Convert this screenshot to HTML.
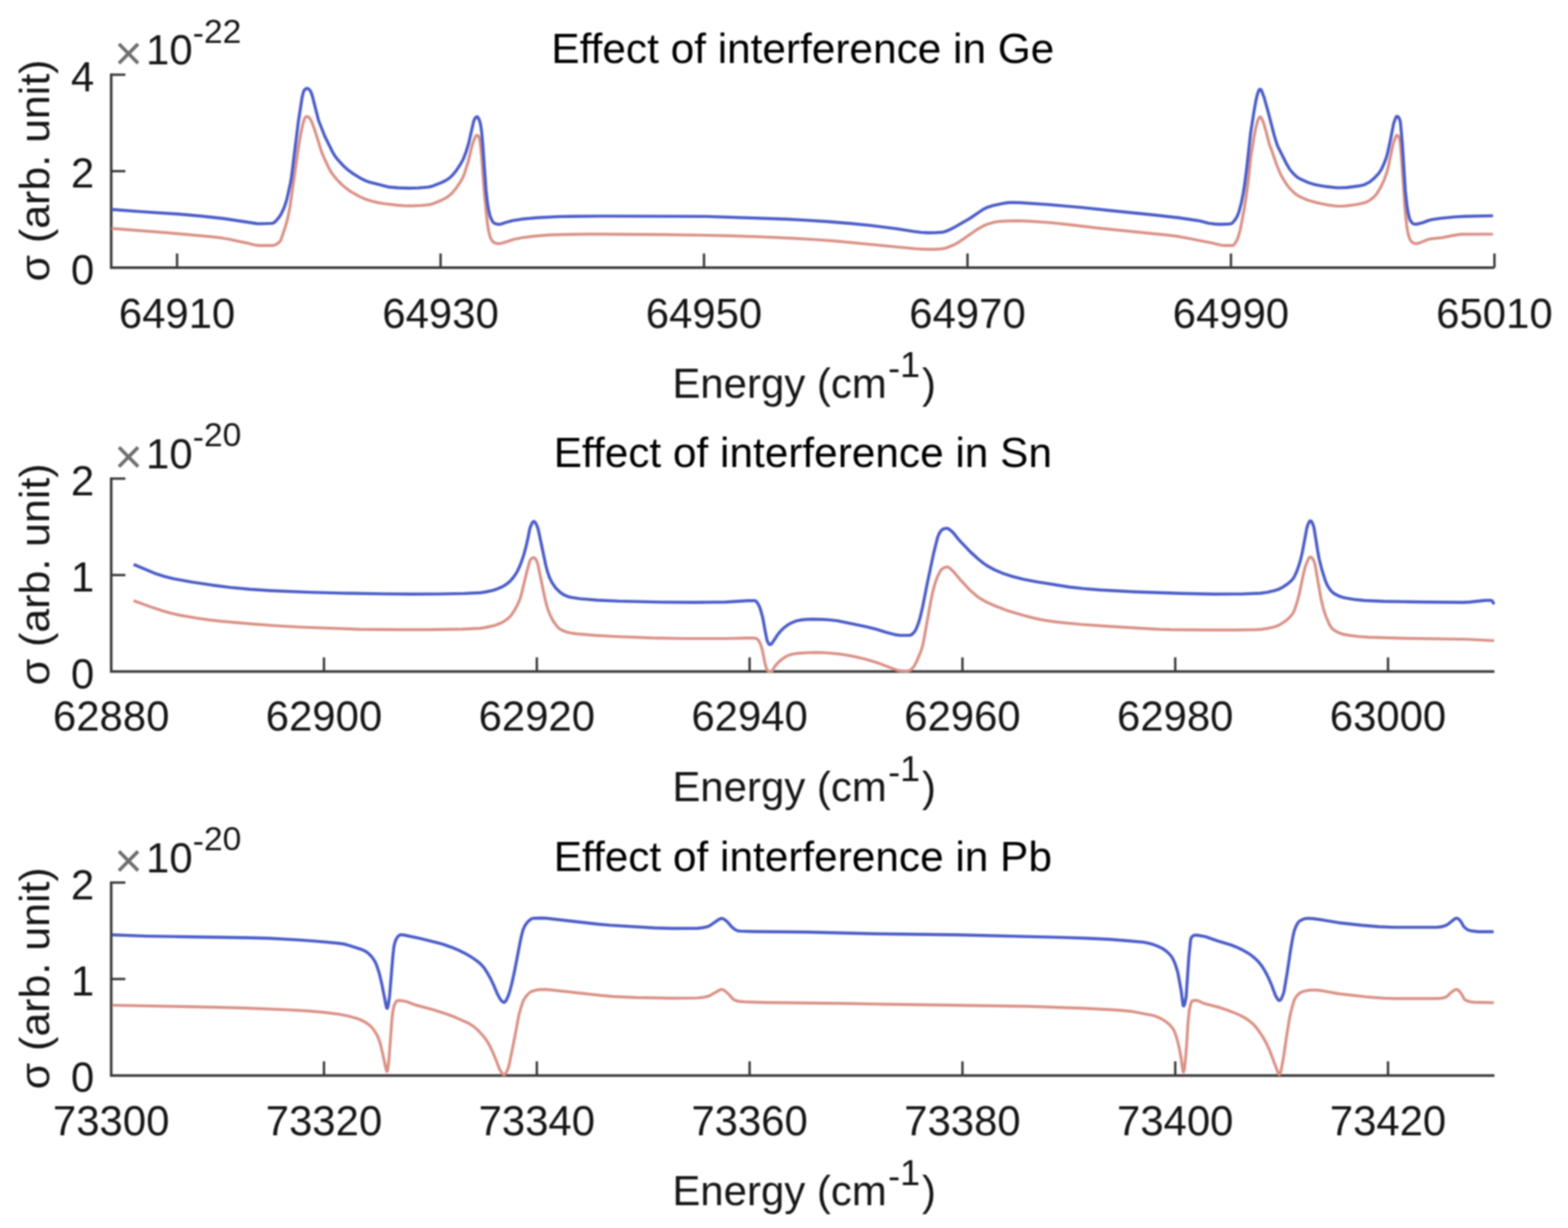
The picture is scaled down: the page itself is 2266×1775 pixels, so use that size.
<!DOCTYPE html>
<html><head><meta charset="utf-8"><title>Effect of interference</title>
<style>
html,body{margin:0;padding:0;background:#fff;width:2266px;height:1775px;overflow:hidden}
svg{display:block;filter:blur(1.1px)}
text{font-family:"Liberation Sans",Arial,sans-serif;fill:#161616;font-variant-ligatures:none;font-kerning:normal}
</style></head><body>
<svg width="2266" height="1775" viewBox="0 0 2266 1775">
<rect width="2266" height="1775" fill="#fff"/>
<g><path d="M160.7,106.3 L160.7,386.9 L2159.7,386.9" fill="none" stroke="#383838" stroke-width="3.7"/><line x1="160.7" y1="247.4" x2="181.2" y2="247.4" stroke="#383838" stroke-width="3.4"/><line x1="160.7" y1="108.0" x2="181.2" y2="108.0" stroke="#383838" stroke-width="3.4"/><line x1="255.9" y1="386.9" x2="255.9" y2="366.4" stroke="#383838" stroke-width="3.4"/><line x1="636.7" y1="386.9" x2="636.7" y2="366.4" stroke="#383838" stroke-width="3.4"/><line x1="1017.4" y1="386.9" x2="1017.4" y2="366.4" stroke="#383838" stroke-width="3.4"/><line x1="1398.2" y1="386.9" x2="1398.2" y2="366.4" stroke="#383838" stroke-width="3.4"/><line x1="1778.9" y1="386.9" x2="1778.9" y2="366.4" stroke="#383838" stroke-width="3.4"/><line x1="2159.7" y1="386.9" x2="2159.7" y2="366.4" stroke="#383838" stroke-width="3.4"/><text x="136.2" y="410.7" text-anchor="end" font-size="60.5">0</text><text x="136.2" y="271.2" text-anchor="end" font-size="60.5">2</text><text x="136.2" y="131.8" text-anchor="end" font-size="60.5">4</text><text x="255.9" y="474.2" text-anchor="middle" font-size="60.5">64910</text><text x="636.7" y="474.2" text-anchor="middle" font-size="60.5">64930</text><text x="1017.4" y="474.2" text-anchor="middle" font-size="60.5">64950</text><text x="1398.2" y="474.2" text-anchor="middle" font-size="60.5">64970</text><text x="1778.9" y="474.2" text-anchor="middle" font-size="60.5">64990</text><text x="2159.7" y="474.2" text-anchor="middle" font-size="60.5">65010</text><text x="1160.2" y="91.0" text-anchor="middle" font-size="61.2" style="fill:#000">Effect of interference in Ge</text><text y="574.5" font-size="60.6"><tspan x="971.7">Energy (cm</tspan><tspan x="1283.5" y="550.0" font-size="52">-</tspan><tspan y="545.0" font-size="52">1</tspan><tspan x="1332.5" y="574.5">)</tspan></text><text transform="translate(70.5,246.4) rotate(-90)" text-anchor="middle" font-size="62.0">σ (arb. unit)</text><text x="165.3" y="100.6" font-size="70" style="fill:#6e6e6e">×</text><text x="211.1" y="93.0" font-size="60.5">10</text><text x="278.6" y="64.0" font-size="48.5">-<tspan dy="-2.5">22</tspan></text><path d="M161,330.2L241.3,336.4L310,342.7L321.9,344.2L330.7,345.7L358.1,351.6L367.8,354L372.8,354.8L393.7,354.9L396.7,354.3L399.4,353.1L403.8,349.8L405.1,348.3L406,346.6L412.4,327.7L415.9,315.1L419,299.4L431,214.8L434.3,195.1L437.4,180.4L439.9,171.8L441.4,169.4L442.7,168.7L444.1,168.5L445.5,168.8L446.9,170L449.1,173.3L450.6,176.5L454.9,188.2L464.8,219.7L467.8,227.1L474.8,242L477.9,247.7L481.6,253.1L486.3,258.9L491.8,264.8L499.3,271.4L506.6,276.7L518.3,283.4L527.8,287.8L537.3,290.8L547.1,293.1L556,294.5L574.3,296.6L585.3,297.5L594.3,297.7L608.8,297L620.7,295.9L626.9,294L638,289.5L645.1,285.7L650.3,281.9L654.9,277.3L659.6,271.5L666,261.9L669.1,256.2L671.3,250.6L676.8,233L681.3,214L684.1,204.4L687.5,196.7L688.9,195.5L689.6,195.5L690.4,195.9L691.9,197.7L693,200.5L694.4,209.9L696,226.3L700.1,281.1L704.2,321.4L705.7,331.8L708,341.5L709.1,344.3L710.8,347.3L712.4,349.3L713.9,350.5L716.2,351.5L719.1,352.1L722.1,352.2L724.6,351.8L742.6,346L754.9,343.5L771.7,341.4L793.2,339.7L822.2,338.8L852.6,338.4L957.6,339.2L1017.1,340L1055.6,340.9L1104.1,342.5L1149.6,344.6L1181,346.5L1206.9,348.4L1322.9,359.5L1337.9,360.4L1350.9,360.3L1360.8,359.6L1365.3,358.9L1370.5,357.3L1378.4,354L1383.2,351.4L1390.4,346.8L1411.7,331.9L1421.2,326.5L1427.2,323.9L1435.9,321.4L1442.7,320.2L1457.2,319.4L1472.2,319.2L1490.2,319.8L1520.1,322L1548.4,325.1L1586.2,329.7L1687.7,339.8L1700,341.4L1714.8,344L1751.6,351.2L1765.2,354.5L1769.7,354.9L1780.7,354.9L1782.6,354.4L1784,353.2L1787.6,347.2L1790,340.7L1792.7,330.5L1797.9,303L1800.4,287.7L1804.3,258L1807.4,228.1L1812.2,198.5L1814.9,184.8L1817.2,175.6L1819.2,170.5L1820.1,169.4L1821.2,169L1822.3,169.6L1823.1,170.7L1826.2,178.1L1829.4,189.1L1834.4,208.5L1838.1,218.3L1844.8,237.7L1850.9,252.5L1854.1,258.2L1857.8,264.1L1861.2,269L1864.7,273.3L1871.1,279.6L1874.8,282.1L1879.1,284.6L1889.7,289.2L1901.2,292.6L1921.2,296.7L1932.2,298L1938.7,298L1945.6,297.6L1961,295.5L1972.7,292.9L1975.9,291.5L1979.8,289.2L1985,285.3L1989.6,280.1L1995.1,271.2L1999.6,261.7L2003.2,252.3L2006.1,242.3L2010.8,219.3L2014.1,205.6L2017.2,197.2L2018.3,195.8L2019.4,195.5L2020.7,196.7L2022.2,199.8L2022.9,202.7L2023.7,208.1L2025.6,230.6L2030.4,301.9L2032.8,325.3L2034.2,334.1L2036.1,341.9L2037.6,346.2L2039.6,349L2041.5,350.6L2043.6,351.8L2045.5,352.2L2047.5,352.1L2051.4,351.1L2063.4,346.3L2066.3,345.4L2083.2,343.7L2098.4,340.6L2111.2,338.6L2157.6,338.5" fill="none" stroke="#da9186" stroke-width="4.2" stroke-linejoin="round" stroke-linecap="butt"/><path d="M161,302.7L210.4,306.4L258.8,309.5L289.6,312.2L323.9,316L371.4,323.2L379.4,323.4L391.4,322.9L393.8,322.7L396.1,321.7L398.4,319.8L401,316.8L404.4,312.4L406.5,309L410.9,299.5L414.4,288.6L419.7,264.6L421.3,255.3L431.1,176.4L436.5,141.3L438.1,134.5L439.4,130.8L441.4,128.7L442.7,128L444.1,127.8L445.9,128.5L447.3,129.8L448.8,131.8L450,134.5L451.9,140.7L460.4,174.2L469.4,197L481.1,220.7L484.3,225.8L488.3,231L495.7,239.1L503.1,245.8L510.8,251.4L522.3,258.3L528.2,261.2L534.3,263.4L560.9,270.2L575.3,271.5L590.3,272L604.8,271.6L619.3,270.4L625.6,268.8L637.2,264.3L643.9,261L649.4,257.5L654.1,253L659.5,246.4L665.8,236.8L669.6,229.8L673.5,219.5L677.3,207.1L684.6,174.9L686.1,171.7L687.4,169.7L688.9,168.8L690.1,169L691.7,171.3L693.7,176.5L694.8,181.8L696.1,191.3L697.6,207.7L702.4,275L704.2,291.4L706.1,303.3L708.4,313L711.6,319.8L712.8,321.3L714.3,322.6L716.1,323.3L719,324L721.5,324.2L723.9,323.9L731.1,321.5L740.7,318.9L753.5,316.8L775.4,314.7L806.4,313.1L827.9,312.7L872.4,312.4L1020.9,312.9L1136.3,316.8L1161.8,318.1L1195.2,320.3L1229.1,323L1258,325.9L1295.7,330.6L1320.8,334.6L1330.8,335.9L1340.7,336.5L1350.7,336.4L1360.7,335.8L1364.6,335.1L1369.3,333.4L1377,329.8L1401.3,315.9L1420.7,302.7L1426.5,299.8L1435.1,297.1L1447.8,294.3L1456.2,293L1463.2,292.6L1474.7,293L1514.1,295.6L1562.9,299.9L1603.7,304.3L1667.9,310.7L1703.1,314.7L1730.3,318.7L1736.2,319.9L1746.4,322.6L1755.3,323.8L1763.7,324.3L1777.2,323.7L1779.6,323.2L1781.2,322.1L1785,317.5L1787.4,313.7L1790.3,306.8L1793.9,293.3L1796.6,279.6L1798.9,265.2L1801.7,242.9L1807.2,193.2L1812.2,161.1L1814.8,146.3L1817.2,136.1L1819.3,130.5L1820.2,129.4L1821.2,129L1822.2,129.6L1823.2,131.2L1826.9,141L1832.9,162.7L1841.3,195.1L1844.6,206.1L1846.9,212.2L1859.2,236.8L1863.3,243.7L1866.9,248.5L1871,252.8L1874.8,256.1L1878.6,258.5L1890.9,264L1899.5,266.7L1906.8,268.2L1917.2,269.8L1931.6,271.4L1938.6,271.4L1947.1,271L1963.9,268.8L1971.2,267.2L1978.8,263.4L1985.5,258.1L1992.6,250.4L1996.2,245L1999.8,237.3L2003.2,228.5L2005.6,219.8L2009,204.2L2014,178.6L2017.2,169.7L2018.3,168.3L2019.5,168.1L2021.2,169.5L2022.7,172.6L2023.5,175.5L2024.2,180.5L2026.6,207.9L2030.9,275.2L2033.2,296.6L2034.9,306.9L2036.9,315.7L2038.3,318.9L2040.7,322.1L2042.2,323.3L2043.5,323.9L2047.4,324L2056.2,321.9L2064.5,318.6L2069.4,317.4L2081.3,315.6L2101.2,313.6L2117.1,312.7L2157.6,311.9" fill="none" stroke="#4a5cc8" stroke-width="4.4" stroke-linejoin="round" stroke-linecap="butt"/></g>
<g><path d="M160.7,690.1 L160.7,970.7 L2159.7,970.7" fill="none" stroke="#383838" stroke-width="3.7"/><line x1="160.7" y1="831.2" x2="181.2" y2="831.2" stroke="#383838" stroke-width="3.4"/><line x1="160.7" y1="691.8" x2="181.2" y2="691.8" stroke="#383838" stroke-width="3.4"/><line x1="468.2" y1="970.7" x2="468.2" y2="950.2" stroke="#383838" stroke-width="3.4"/><line x1="775.8" y1="970.7" x2="775.8" y2="950.2" stroke="#383838" stroke-width="3.4"/><line x1="1083.3" y1="970.7" x2="1083.3" y2="950.2" stroke="#383838" stroke-width="3.4"/><line x1="1390.9" y1="970.7" x2="1390.9" y2="950.2" stroke="#383838" stroke-width="3.4"/><line x1="1698.4" y1="970.7" x2="1698.4" y2="950.2" stroke="#383838" stroke-width="3.4"/><line x1="2005.9" y1="970.7" x2="2005.9" y2="950.2" stroke="#383838" stroke-width="3.4"/><text x="136.2" y="994.5" text-anchor="end" font-size="60.5">0</text><text x="136.2" y="855.0" text-anchor="end" font-size="60.5">1</text><text x="136.2" y="715.6" text-anchor="end" font-size="60.5">2</text><text x="160.7" y="1056.2" text-anchor="middle" font-size="60.5">62880</text><text x="468.2" y="1056.2" text-anchor="middle" font-size="60.5">62900</text><text x="775.8" y="1056.2" text-anchor="middle" font-size="60.5">62920</text><text x="1083.3" y="1056.2" text-anchor="middle" font-size="60.5">62940</text><text x="1390.9" y="1056.2" text-anchor="middle" font-size="60.5">62960</text><text x="1698.4" y="1056.2" text-anchor="middle" font-size="60.5">62980</text><text x="2005.9" y="1056.2" text-anchor="middle" font-size="60.5">63000</text><text x="1160.2" y="674.8" text-anchor="middle" font-size="61.2" style="fill:#000">Effect of interference in Sn</text><text y="1158.3" font-size="60.6"><tspan x="971.7">Energy (cm</tspan><tspan x="1283.5" y="1133.8" font-size="52">-</tspan><tspan y="1128.8" font-size="52">1</tspan><tspan x="1332.5" y="1158.3">)</tspan></text><text transform="translate(70.5,830.2) rotate(-90)" text-anchor="middle" font-size="62.0">σ (arb. unit)</text><text x="165.3" y="684.4" font-size="70" style="fill:#6e6e6e">×</text><text x="211.1" y="676.8" font-size="60.5">10</text><text x="278.6" y="647.8" font-size="48.5">-<tspan dy="-2.5">20</tspan></text><path d="M193.1,868.2L220.3,878.1L236,883.3L246.6,886.3L260.7,889.4L284.4,893.5L302.7,896.2L323.6,898.4L367.4,902.2L399.3,904.5L435.2,906.5L519.7,909.6L575.2,910.1L620.2,910.1L668.2,909.3L694.6,908.1L702.1,906.9L711.3,904.9L717.1,903.2L722.7,901L727.6,898.6L732.2,895.6L736,892.4L739.3,888.6L742.9,883.2L746.6,876.7L749.6,870.4L752.1,863.8L754.1,856.6L761.8,824.5L765.8,810.6L766.7,808.9L768.1,807.4L769.7,806.3L771.5,806L772.7,806.5L774.2,808.4L776.2,812.4L777.3,815.7L787.5,865.2L791.2,879.2L794.5,888.1L799.1,897L803,902.8L806.1,906.7L808.4,908.7L810.9,910.2L814.5,912L818.7,913.5L824.1,914.8L833,916.1L859.9,918.4L887.8,920L942.8,922.2L989.8,923L1048.3,923L1082.8,922.2L1091.2,922.3L1093.1,922.9L1095,924.4L1096.7,926.3L1098.1,928.9L1099.9,933.6L1102,940.8L1105.1,956.9L1107.7,966.6L1109.3,969.6L1110.9,970.7L1112.8,970.7L1114.1,970.7L1115.6,970.1L1120.3,962.5L1126.7,955.5L1133.5,950.4L1138.7,947.5L1145.5,945.5L1152.8,944.3L1165.8,943.5L1179.8,943.2L1192.8,943.5L1211.2,945.1L1221.1,946.5L1233.9,948.9L1248.6,952.2L1264.9,956.9L1297.7,969.1L1301.6,969.7L1311.6,969.8L1314,969.4L1315.8,968.5L1318.7,965.8L1321.2,962.7L1324.5,956.6L1330.7,941.8L1332.8,935.1L1334.7,926.9L1344.8,870.8L1348.1,855.1L1350.6,845.4L1354.5,834.1L1358.8,825.6L1360.2,823.6L1361.7,822.2L1364.3,820.7L1366.6,819.8L1368.5,819.5L1370,819.7L1372.9,821.5L1379.3,827.8L1389,839.3L1401.2,852.5L1411.7,861.7L1415.8,864.6L1420.5,867.4L1427.6,871.1L1438.6,876L1455.4,882.4L1476.4,888.8L1492.9,893.1L1503.1,895.4L1513.5,897.2L1527.3,899.1L1561.7,902.5L1602.5,905.4L1674.4,909.6L1691.9,910.2L1749.9,910.7L1784.9,910.7L1815.4,910.2L1822.9,909.7L1830.3,908.6L1840.1,906.5L1846.3,904.6L1852,901.5L1858.6,896.9L1863.1,893L1866.7,888.9L1868.9,885.6L1870.7,882L1874.7,869.6L1877.4,859.5L1883.9,828.6L1886.6,818L1890.9,807.9L1892.3,805.9L1893.8,805.1L1895.5,805.8L1897,807.7L1899.1,811.6L1900.2,814.9L1908.9,864.7L1912.5,879.8L1916,890.7L1920.5,901.3L1924.1,907.3L1925.8,909.1L1928.2,910.9L1934.7,914.6L1941.3,916.9L1949.7,918.4L1963.1,920L1978.5,921.1L2028.5,922.7L2117.5,924L2159.2,926" fill="none" stroke="#da9186" stroke-width="4.2" stroke-linejoin="round" stroke-linecap="butt"/><path d="M193.1,815.9L226.3,829.7L238.3,833.4L251.4,836.6L277.4,841.3L306.1,845.7L332.9,849.1L361.3,851.8L391.2,853.7L448.2,856.1L494.1,857.4L554.1,858.4L594.6,858.8L631.1,858.6L670.6,857.9L694.6,856.7L702.5,855.5L712.2,853.3L718.4,851.3L724.9,848.6L730.1,845.7L734.9,842.1L738.5,838.7L742.3,834L745.5,829.5L747.9,825.2L750.9,818.8L753.5,812.3L757,801.9L760,790.8L762.5,780.1L765.8,763.4L768.9,756.1L770.4,754.2L771.6,753.8L772.7,754.3L774.2,756.2L776.5,761.2L777.9,765.5L788.8,817.3L791.1,826L794.4,835.5L798,842.6L802.8,849.6L809.2,855.9L814.9,859.9L819.5,861.8L824.8,863.4L837.6,865.4L863.6,867.5L893.5,868.9L955.5,870.4L1003.5,870.7L1048.5,870.3L1080.9,868.3L1090.9,868.2L1092.6,869L1094.5,871.3L1097,875.6L1098.7,879.8L1102.3,892.8L1105.4,910L1108.4,925.2L1109.3,927.5L1110.7,930.1L1112,931.5L1113.2,931.7L1114.4,931.1L1115.7,929.7L1124.3,916.8L1127.1,913.3L1132,908.3L1138.3,903.4L1144,900.2L1151.4,897.3L1156.3,896.3L1166.2,895.2L1175.7,895L1191.7,895.5L1200.2,896.1L1210.6,897.4L1251.7,905.8L1265.8,909.4L1281.1,914.1L1295.6,917.8L1301.1,918.4L1313.6,918.4L1316,918L1317.7,917.1L1321.3,913.6L1323.7,909.9L1327,901.5L1329.6,892.9L1333.5,876.4L1339.6,845.4L1349.1,800.4L1354.9,777.1L1356.9,772L1359.7,767.3L1361.8,765.3L1365.5,763.9L1368,763.6L1369.9,764L1372,765.2L1375.5,768L1378.3,770.9L1384.2,778.4L1388.5,783.2L1402.7,798L1413.8,808.1L1420.8,813.7L1426.1,817.5L1437,823.5L1449.9,829L1462.7,833.2L1479.2,837.3L1498.9,841.2L1545.3,848.5L1564.2,850.6L1590.1,852.7L1640.5,855.5L1706.5,857.8L1754.4,858.7L1792.9,858.6L1821.4,857.5L1831.3,856.1L1842,853.7L1847.7,851.8L1853.9,848.6L1861,843.9L1865.9,839.6L1869.1,835.8L1871.4,831.9L1874,825.9L1877.2,817L1879.7,808.4L1882.1,798.1L1888.7,762.7L1890.1,758.5L1891.7,754.8L1892.8,753.3L1894,753L1895,753.5L1896.1,755.1L1897.7,758.8L1898.9,762.6L1904.5,797.6L1906.3,807.5L1910.2,823L1915.4,839.7L1918.7,847L1923.5,854L1927.5,857.7L1933.2,860.8L1937.9,862.6L1943.1,864.1L1959.4,866.8L1972.3,868L2000.3,869.2L2060.8,870.3L2115.3,870.7L2123.8,870.3L2144.7,868L2153.6,867.6L2155,867.8L2156.2,868.5L2159.3,873.3" fill="none" stroke="#4a5cc8" stroke-width="4.4" stroke-linejoin="round" stroke-linecap="butt"/></g>
<g><path d="M160.7,1274.0 L160.7,1554.6 L2159.7,1554.6" fill="none" stroke="#383838" stroke-width="3.7"/><line x1="160.7" y1="1415.1" x2="181.2" y2="1415.1" stroke="#383838" stroke-width="3.4"/><line x1="160.7" y1="1275.7" x2="181.2" y2="1275.7" stroke="#383838" stroke-width="3.4"/><line x1="468.2" y1="1554.6" x2="468.2" y2="1534.1" stroke="#383838" stroke-width="3.4"/><line x1="775.8" y1="1554.6" x2="775.8" y2="1534.1" stroke="#383838" stroke-width="3.4"/><line x1="1083.3" y1="1554.6" x2="1083.3" y2="1534.1" stroke="#383838" stroke-width="3.4"/><line x1="1390.9" y1="1554.6" x2="1390.9" y2="1534.1" stroke="#383838" stroke-width="3.4"/><line x1="1698.4" y1="1554.6" x2="1698.4" y2="1534.1" stroke="#383838" stroke-width="3.4"/><line x1="2005.9" y1="1554.6" x2="2005.9" y2="1534.1" stroke="#383838" stroke-width="3.4"/><text x="136.2" y="1578.4" text-anchor="end" font-size="60.5">0</text><text x="136.2" y="1438.9" text-anchor="end" font-size="60.5">1</text><text x="136.2" y="1299.5" text-anchor="end" font-size="60.5">2</text><text x="160.7" y="1641.1" text-anchor="middle" font-size="60.5">73300</text><text x="468.2" y="1641.1" text-anchor="middle" font-size="60.5">73320</text><text x="775.8" y="1641.1" text-anchor="middle" font-size="60.5">73340</text><text x="1083.3" y="1641.1" text-anchor="middle" font-size="60.5">73360</text><text x="1390.9" y="1641.1" text-anchor="middle" font-size="60.5">73380</text><text x="1698.4" y="1641.1" text-anchor="middle" font-size="60.5">73400</text><text x="2005.9" y="1641.1" text-anchor="middle" font-size="60.5">73420</text><text x="1160.2" y="1258.7" text-anchor="middle" font-size="61.2" style="fill:#000">Effect of interference in Pb</text><text y="1742.2" font-size="60.6"><tspan x="971.7">Energy (cm</tspan><tspan x="1283.5" y="1717.7" font-size="52">-</tspan><tspan y="1712.7" font-size="52">1</tspan><tspan x="1332.5" y="1742.2">)</tspan></text><text transform="translate(70.5,1414.1) rotate(-90)" text-anchor="middle" font-size="62.0">σ (arb. unit)</text><text x="165.3" y="1268.3" font-size="70" style="fill:#6e6e6e">×</text><text x="211.1" y="1260.7" font-size="60.5">10</text><text x="278.6" y="1231.7" font-size="48.5">-<tspan dy="-2.5">20</tspan></text><path d="M161.9,1453L309.4,1455.8L355.9,1457.2L413.3,1459.5L443.3,1461.1L469.2,1463.3L488.5,1465.8L503.7,1468.7L517.2,1472.6L521.8,1474.5L526.7,1476.9L531,1479.6L534.5,1482.3L537.7,1485.5L540.5,1489L545.4,1497.2L548.9,1506L553.2,1523.5L558.1,1546.4L558.7,1548.2L559.3,1548.7L560,1547.6L560.5,1545.2L562.2,1529.8L566.5,1472.4L567.4,1464L569,1455.6L569.8,1452.8L571.1,1450L572.4,1447.9L573.8,1446.6L576.6,1446.2L584.5,1447L588.9,1448.2L599.6,1452.4L626.1,1459.5L647.1,1466.3L658.7,1470.8L672.4,1476.8L679.1,1480.2L684.2,1483.5L689.5,1488L695.4,1494.1L700.6,1500.2L704.8,1506.4L707.8,1511.6L711.2,1518.8L716.1,1530.3L722,1545.7L725.7,1551.7L727,1553L728.3,1553.5L729.9,1552.8L731.3,1550.8L733.9,1545.4L735.3,1541.2L742.6,1505.9L749.7,1468.1L752.8,1456.5L755.7,1448L757.4,1444.4L760.2,1440.3L763.1,1436.8L765.7,1434.5L767.9,1433.2L770.7,1432.2L775.5,1431L780,1430.3L786.5,1430.1L796.4,1430.8L866.5,1438.6L885.9,1440.3L918.9,1441.9L972.4,1442.9L1007.9,1442.5L1015.8,1441.7L1022.2,1440.4L1025.5,1439.3L1039.8,1431.1L1041.7,1430.4L1043.1,1430.2L1045.5,1430.8L1047.9,1432.5L1053.5,1437.5L1058.7,1443.5L1061.1,1445.3L1063.9,1446.4L1067.7,1447.4L1076.2,1448.2L1107.2,1449.2L1217.7,1450.4L1285.2,1451.7L1486.6,1454.7L1565.1,1457.4L1604,1459.3L1622,1460.6L1637.4,1462.2L1665.9,1467.7L1671.1,1469.3L1677.1,1472L1682.7,1475.2L1687.9,1479.1L1692.2,1483.2L1695.5,1487.6L1697.6,1491.6L1699.7,1497.7L1702.2,1506.4L1705.1,1519.5L1707,1529.9L1709.2,1546.7L1709.8,1549L1710.3,1549.5L1711,1548.4L1711.5,1546L1713,1533.1L1714.8,1511.7L1716.8,1479.2L1718.7,1460.3L1720.5,1452L1722,1447.8L1722.9,1446.8L1724.2,1446.3L1728.7,1445.9L1731.5,1446.6L1739.2,1450.2L1762.9,1456.4L1772.8,1459.7L1784.9,1464.4L1792.7,1467.9L1798.9,1471.2L1804.7,1475.1L1809.7,1479.1L1814,1483.4L1818.3,1488.9L1824.7,1498.4L1829.4,1506.7L1835.1,1518.9L1847.2,1551.2L1847.9,1552.5L1848.7,1553.1L1849.6,1552.7L1850.2,1551.5L1852,1544.2L1855.4,1525.1L1859.3,1497.8L1863.2,1473.7L1865.1,1464.3L1868,1453.2L1870.4,1445.6L1872.7,1441.2L1875,1438.5L1877.5,1436.1L1880,1434.4L1882.7,1433.2L1887.6,1432L1893.5,1431.2L1898.5,1431L1903.5,1431.2L1911.4,1432.2L1934.5,1436.4L1975.3,1441L2000.2,1442.9L2016.7,1443.4L2076.7,1443.4L2083.2,1442.9L2089.4,1441.3L2091.5,1439.9L2095.7,1435.7L2100.1,1432.3L2102.6,1430.8L2104.9,1430.2L2107.2,1431L2109.6,1433.4L2112.5,1437.5L2116.3,1444.4L2117.9,1445.6L2121.1,1447L2124.9,1448.1L2129.4,1448.6L2158.7,1449.3" fill="none" stroke="#da9186" stroke-width="4.2" stroke-linejoin="round" stroke-linecap="butt"/><path d="M161.9,1351.2L212.4,1353.1L360.4,1355.5L388.9,1356.3L431.8,1358.6L458.7,1360.6L487.6,1363.2L495,1364.2L500.9,1365.5L520.9,1371.8L527.3,1374.6L530.7,1376.7L534.1,1379.7L537.5,1383.3L540.1,1387L542.4,1390.9L544.2,1395L548.1,1406.8L551.5,1420.9L558.2,1454.8L558.7,1456.6L559.3,1457.4L560.1,1456.6L560.8,1454.3L563,1440L567.9,1380.2L569.4,1367.8L571.2,1360.5L573.1,1356.4L574.8,1354L576.6,1352.2L578.3,1351.3L579.7,1351.1L583.7,1351.5L606.7,1356.3L632.9,1362.8L641,1365.2L652.8,1369.3L663.4,1373.8L673.3,1378.7L681.9,1383.8L687.6,1387.7L692.4,1391.4L696.7,1395.6L699.6,1399L703.7,1405.3L708.9,1414.4L713.8,1424.8L718.7,1436.3L722.4,1443.4L724.5,1446.2L726.6,1448.3L728.3,1448.9L729.5,1448.5L731.6,1445.8L734.7,1439L736.6,1433.3L739.4,1422.7L743.9,1402.2L752.7,1356.5L755.7,1344.4L758.8,1337.6L762,1333.2L764.9,1330.4L767.3,1328.6L769.6,1327.6L772,1327.3L782.5,1327L789,1327.3L863.5,1335.8L881.9,1337.4L945.8,1341.3L971.8,1342L1008.3,1341.7L1012.8,1341.3L1017.7,1340.5L1022.6,1339.4L1025.4,1338.3L1039,1328.9L1041.2,1327.9L1043.1,1327.5L1045.9,1328.3L1049.1,1330.7L1052,1333.4L1057.2,1339.5L1062.2,1343.6L1065.8,1345.4L1069.7,1345.9L1089.2,1346.5L1165.2,1347.3L1265.2,1349.7L1382.7,1351.2L1539.1,1355.1L1571.1,1356.2L1603.5,1357.8L1628.5,1359.7L1652.4,1361.9L1658.8,1363.1L1666.5,1365.2L1672.1,1367.2L1678,1369.9L1683.1,1373L1687.4,1376.5L1690.9,1380L1693.9,1384L1696,1388L1698.5,1394L1702.1,1405.4L1706.9,1431.5L1709.5,1451.8L1709.9,1453.6L1710.6,1454L1711.5,1452.9L1712.4,1450.1L1714.2,1440.3L1718,1383.9L1720.5,1359.5L1721.3,1356.1L1722.2,1354.4L1724,1352.8L1726.3,1351.8L1728.2,1351.7L1731.7,1352L1742,1353.8L1760,1360.1L1779.1,1365.9L1787.5,1369.2L1796,1373.3L1803.4,1377.5L1809.6,1381.8L1814.5,1386L1819.1,1390.6L1822.8,1395.3L1826.4,1400.7L1830.8,1408.6L1834,1415.4L1838.1,1425L1843.1,1438.6L1846.6,1444.7L1847.6,1445.7L1848.8,1446.1L1850.3,1445.4L1852,1443L1854.5,1437L1855.8,1432.2L1860.4,1404.6L1865.2,1372.4L1868.5,1353.7L1870.4,1345.4L1873.3,1338L1876.4,1332.9L1879.4,1330.4L1884.5,1328.2L1889.4,1327.4L1896.9,1327.8L1911.7,1329.8L1934.4,1333.7L1968.7,1337.5L1992.6,1339.5L2015.1,1340.4L2075.6,1340.4L2082,1339.8L2089.7,1337.6L2093.1,1335.5L2102.5,1328.1L2103.8,1327.4L2105.2,1327.2L2107.4,1328L2110.2,1330.7L2112,1333.2L2114.8,1338.4L2116.4,1340.4L2119.4,1342.9L2122.5,1344.6L2128.3,1345.8L2136.3,1346.7L2158.6,1346.8" fill="none" stroke="#4a5cc8" stroke-width="4.4" stroke-linejoin="round" stroke-linecap="butt"/></g>
</svg>
</body></html>
